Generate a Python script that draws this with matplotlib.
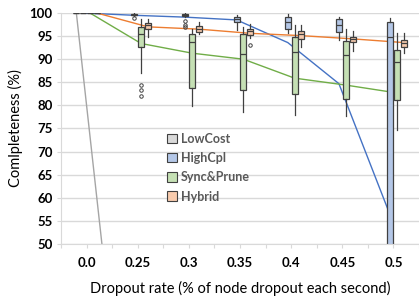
import matplotlib.pyplot as plt
from matplotlib.patches import Patch

plt.rcParams['font.family'] = ['Lato', 'DejaVu Sans']

rates = ['0.0', '0.25', '0.3', '0.35', '0.4', '0.45', '0.5']
names = ['LowCost', 'HighCpl', 'Sync&Prune', 'Hybrid']

# box stats per series: whisker low, q1, median, q3, whisker high; line = mean
lc_lo = [100, 0, 0, 0, 0, 0, 0]
lc_q1 = [100, 0, 0, 0, 0, 0, 0]
lc_med = [100, 0, 0, 0, 0, 0, 0]
lc_q3 = [100, 0, 0, 0, 0, 0, 0]
lc_hi = [100, 0, 0, 0, 0, 0, 0]
lc_mean = [100, 0, 0, 0, 0, 0, 0]
lc_out = [[], [], [], [], [], [], []]

hc_lo = [100, 99.3, 99.1, 96.3, 95.6, 94.2, 30]
hc_q1 = [100, 99.5, 99.4, 98.0, 96.5, 95.8, 45]
hc_med = [100, 99.6, 99.6, 98.6, 98.0, 97.3, 94.7]
hc_q3 = [100, 99.8, 99.8, 99.2, 99.2, 98.7, 98.0]
hc_hi = [100, 100, 100, 99.6, 99.7, 99.2, 98.9]
hc_mean = [100, 99.5, 99.1, 98.5, 93.6, 84.7, 56.3]
hc_out = [[], [98.9], [98.2, 97.5, 97.0], [], [], [], []]

sp_lo = [100, 87.1, 79.8, 78.6, 77.9, 77.6, 74.7]
sp_q1 = [100, 92.7, 83.7, 83.3, 82.4, 81.4, 81.2]
sp_med = [100, 95.4, 93.8, 91.1, 91.6, 90.9, 89.3]
sp_q3 = [100, 97.0, 95.4, 95.4, 94.7, 93.9, 92.0]
sp_hi = [100, 98.7, 96.5, 97.0, 97.4, 96.5, 95.7]
sp_mean = [100, 93.4, 91.3, 90.0, 85.9, 84.4, 82.7]
sp_out = [[], [84.4, 83.3, 82.1], [], [], [], [], []]

hy_lo = [100, 94.9, 95.4, 94.5, 92.7, 91.8, 91.3]
hy_q1 = [100, 96.5, 95.9, 95.2, 94.4, 93.8, 92.7]
hy_med = [100, 97.3, 96.6, 96.0, 95.4, 94.4, 93.4]
hy_q3 = [100, 97.8, 97.2, 96.5, 96.0, 94.9, 94.2]
hy_hi = [100, 98.7, 98.1, 97.6, 97.4, 96.1, 95.6]
hy_mean = [100, 97.0, 96.5, 95.6, 95.1, 94.4, 93.6]
hy_out = [[], [], [], [93.1], [], [], []]

series = [
    (lc_lo, lc_q1, lc_med, lc_q3, lc_hi, lc_mean, lc_out),
    (hc_lo, hc_q1, hc_med, hc_q3, hc_hi, hc_mean, hc_out),
    (sp_lo, sp_q1, sp_med, sp_q3, sp_hi, sp_mean, sp_out),
    (hy_lo, hy_q1, hy_med, hy_q3, hy_hi, hy_mean, hy_out),
]
box_colors = ['#d9d9d9', '#b4c7e7', '#c5e0b4', '#f8cbad']
line_colors = ['#a5a5a5', '#4472c4', '#70ad47', '#ed7d31']
offsets = [-0.2, -0.066, 0.066, 0.2]

fig = plt.figure(figsize=(4.19, 2.98), dpi=100)
ax = fig.add_axes([0.1456, 0.1812, 0.8544, 0.7752])

for k, (lo, q1, med, q3, hi, mean, out) in enumerate(series):
    pos = [i + offsets[k] for i in range(len(rates))]
    stats = []
    for i in range(len(rates)):
        stats.append({'whislo': lo[i], 'q1': q1[i], 'med': med[i], 'q3': q3[i],
                      'whishi': hi[i], 'fliers': out[i]})
    ax.bxp(stats, positions=pos, widths=0.117, patch_artist=True, showcaps=False,
           boxprops=dict(facecolor=box_colors[k], edgecolor='#404040', linewidth=0.9),
           medianprops=dict(color='#404040', linewidth=0.9),
           whiskerprops=dict(color='#404040', linewidth=0.9),
           flierprops=dict(marker='o', markersize=2.5, markerfacecolor='none',
                           markeredgecolor='#404040', markeredgewidth=0.7),
           manage_ticks=False)
    ax.plot(pos, mean, color=line_colors[k], linewidth=1.0, zorder=1)

ax.set_xlim(-0.5, 6.465)
ax.set_ylim(50, 100)
ax.set_yticks(range(50, 101, 5))
ax.set_xticks(range(len(rates)))
ax.set_xticklabels(rates)
ax.set_xticks([i - 0.5 for i in range(len(rates) + 1)], minor=True)
for lab in ax.get_xticklabels() + ax.get_yticklabels():
    lab.set_fontweight('bold')
ax.tick_params(axis='both', labelsize=9.5, colors='#d9d9d9', labelcolor='black', length=3, width=0.8)
ax.tick_params(axis='x', which='minor', colors='#d9d9d9', length=3, width=0.8)
ax.tick_params(axis='x', pad=6)
ax.tick_params(axis='y', pad=3)
ax.grid(axis='y', color='#d9d9d9', linewidth=1.0)
ax.set_axisbelow(True)
for s in ['top', 'right']:
    ax.spines[s].set_visible(False)
for s in ['left', 'bottom']:
    ax.spines[s].set_color('#d9d9d9')

ax.set_ylabel('Comlpleteness (%)', fontsize=10.5, labelpad=5)
ax.set_xlabel('Dropout rate (% of node dropout each second)', fontsize=10.5, labelpad=9)

handles = [Patch(facecolor=box_colors[k], edgecolor='#404040', linewidth=0.8) for k in range(4)]
leg = fig.legend(handles, names, loc='upper left', bbox_to_anchor=(158 / 419, 1 - 124 / 298),
                 frameon=False, fontsize=9, handlelength=0.8, handleheight=0.8,
                 handletextpad=0.3, labelspacing=0.58, borderpad=0.2)
for t in leg.get_texts():
    t.set_color('#595959')
    t.set_fontweight('bold')

fig.savefig('out.png', dpi=100)
